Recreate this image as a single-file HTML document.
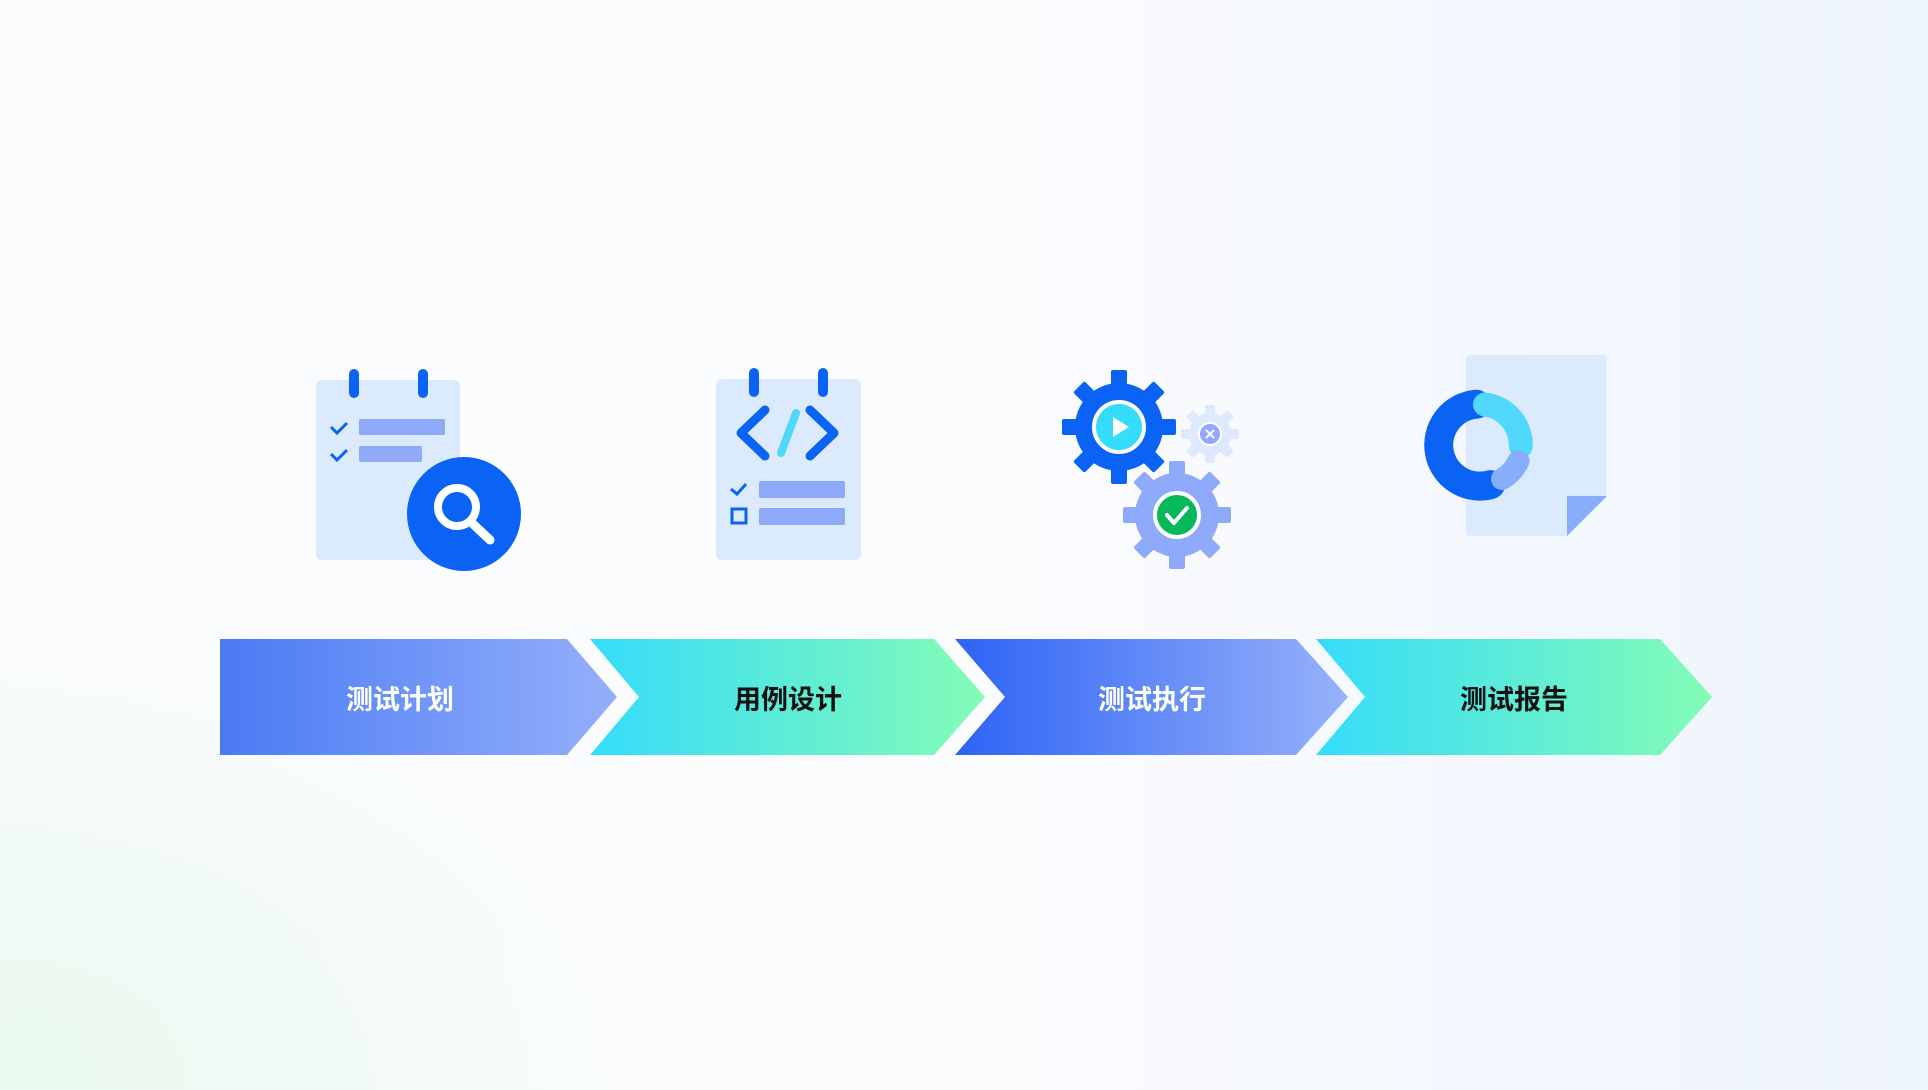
<!DOCTYPE html>
<html><head><meta charset="utf-8"><style>
html,body{margin:0;padding:0;width:1928px;height:1090px;overflow:hidden}
body{background:radial-gradient(ellipse 900px 600px at 0% 100%,#e8f9ee 0%,rgba(240,250,245,0) 70%),linear-gradient(90deg,#f9fbfd 0%,#fbfcfe 50%,#eef4fd 100%);font-family:"Liberation Sans","Noto Sans CJK SC",sans-serif}
</style></head><body>
<svg width="1928" height="1090" viewBox="0 0 1928 1090" xmlns="http://www.w3.org/2000/svg" style="position:absolute;left:0;top:0">
<defs>
<linearGradient id="gb" x1="0" x2="1"><stop offset="0" stop-color="#4a7af4"/><stop offset="1" stop-color="#94b0fa"/></linearGradient>
<linearGradient id="gb2" x1="0" x2="1"><stop offset="0" stop-color="#2d63f5"/><stop offset="1" stop-color="#98b2fa"/></linearGradient>
<linearGradient id="gg" x1="0" x2="1"><stop offset="0" stop-color="#35dcfb"/><stop offset="1" stop-color="#84fcb5"/></linearGradient>
</defs>
<!-- arrows -->
<polygon points="220,639 567,639 617,697 567,755 220,755" fill="url(#gb)"/>
<polygon points="590,639 934,639 985,697 934,755 590,755 639,697" fill="url(#gg)"/>
<polygon points="955,639 1296,639 1348,697 1296,755 955,755 1005,697" fill="url(#gb2)"/>
<polygon points="1316,639 1660,639 1712,697 1660,755 1316,755 1365,697" fill="url(#gg)"/>
<g font-size="27" font-weight="bold" text-anchor="middle" font-family="Liberation Sans,Noto Sans CJK SC,sans-serif">
<text x="400" y="709" fill="#fff">测试计划</text>
<text x="788" y="709" fill="#111">用例设计</text>
<text x="1152" y="709" fill="#fff">测试执行</text>
<text x="1514" y="709" fill="#111">测试报告</text>
</g>
<!-- icon1 -->
<rect x="316" y="380" width="144" height="180" rx="6" fill="#dceafd"/>
<rect x="349" y="369" width="10" height="29" rx="5" fill="#0a63f5"/>
<rect x="418" y="369" width="10" height="29" rx="5" fill="#0a63f5"/>
<path d="M331 427 l6 6 l10 -10 M331 454 l6 6 l10 -10" stroke="#0a63f5" stroke-width="3" fill="none"/>
<rect x="359" y="419" width="86" height="16" rx="2" fill="#8fa9fb"/>
<rect x="359" y="446" width="63" height="16" rx="2" fill="#8fa9fb"/>
<circle cx="464" cy="514" r="57" fill="#0a63f5"/>
<circle cx="457" cy="507" r="19" fill="none" stroke="#fff" stroke-width="8"/>
<line x1="472" y1="523" x2="490" y2="540" stroke="#fff" stroke-width="9" stroke-linecap="round"/>
<!-- icon2 -->
<rect x="716" y="379" width="145" height="181" rx="6" fill="#dceafd"/>
<rect x="749" y="368" width="10" height="29" rx="5" fill="#0a63f5"/>
<rect x="818" y="368" width="10" height="29" rx="5" fill="#0a63f5"/>
<path d="M765 410 l-24 23 l24 23 M810 410 l24 23 l-24 23" stroke="#0a63f5" stroke-width="9" fill="none" stroke-linejoin="round" stroke-linecap="round"/>
<line x1="796" y1="413" x2="781" y2="453" stroke="#4fd8fb" stroke-width="8" stroke-linecap="round"/>
<path d="M731 489 l6 5 l9 -10" stroke="#0a63f5" stroke-width="3" fill="none"/>
<rect x="732" y="509" width="14" height="14" fill="none" stroke="#0a63f5" stroke-width="3"/>
<rect x="759" y="481" width="86" height="17" rx="2" fill="#8fa9fb"/>
<rect x="759" y="508" width="86" height="17" rx="2" fill="#8fa9fb"/>
<!-- icon3 gears -->
<g transform="translate(1210,434)" fill="#dfe9fd">
<circle r="21"/>
<g><rect x="-5" y="-29" width="10" height="58" rx="2"/><rect x="-5" y="-29" width="10" height="58" rx="2" transform="rotate(45)"/><rect x="-5" y="-29" width="10" height="58" rx="2" transform="rotate(90)"/><rect x="-5" y="-29" width="10" height="58" rx="2" transform="rotate(135)"/></g>
<circle r="11" fill="#93a9fb" stroke="#fff" stroke-width="2"/>
<path d="M-4 -4 L4 4 M4 -4 L-4 4" stroke="#fff" stroke-width="2"/>
</g>
<g transform="translate(1119,427)" fill="#0a63f5">
<circle r="44"/>
<rect x="-8" y="-57" width="16" height="114" rx="2"/><rect x="-8" y="-57" width="16" height="114" rx="2" transform="rotate(45)"/><rect x="-8" y="-57" width="16" height="114" rx="2" transform="rotate(90)"/><rect x="-8" y="-57" width="16" height="114" rx="2" transform="rotate(135)"/>
<circle r="25" fill="#35dcfb" stroke="#fff" stroke-width="4"/>
<path d="M-6 -10 L10 0 L-6 10 Z" fill="#fff"/>
</g>
<g transform="translate(1177,515)" fill="#8fa9fb">
<circle r="42"/>
<rect x="-8" y="-54" width="16" height="108" rx="2"/><rect x="-8" y="-54" width="16" height="108" rx="2" transform="rotate(45)"/><rect x="-8" y="-54" width="16" height="108" rx="2" transform="rotate(90)"/><rect x="-8" y="-54" width="16" height="108" rx="2" transform="rotate(135)"/>
<circle r="22" fill="#07b85a" stroke="#fff" stroke-width="4"/>
<path d="M-10 0 L-3 8 L10 -7" stroke="#fff" stroke-width="4" fill="none" stroke-linecap="round" stroke-linejoin="round"/>
</g>
<!-- icon4 -->
<path d="M1470 355 H1603 a4 4 0 0 1 4 4 V496 L1567 536 H1470 a4 4 0 0 1 -4 -4 V359 a4 4 0 0 1 4 -4Z" fill="#dceafd"/>
<polygon points="1567,536 1567,496 1607,496" fill="#86aefb"/>
<path d="M1476.4 404.2 A41 41 0 1 0 1490.6 484.6" stroke="#0a63f5" stroke-width="29" fill="none" stroke-linecap="round"/>
<path d="M1485 404.5 A41 41 0 0 1 1520.8 446" stroke="#4fd8fb" stroke-width="24" fill="none" stroke-linecap="round"/>
<path d="M1518.5 461 A41 41 0 0 1 1502 479" stroke="#86aefb" stroke-width="22" fill="none" stroke-linecap="round"/>
</svg>
</body></html>
